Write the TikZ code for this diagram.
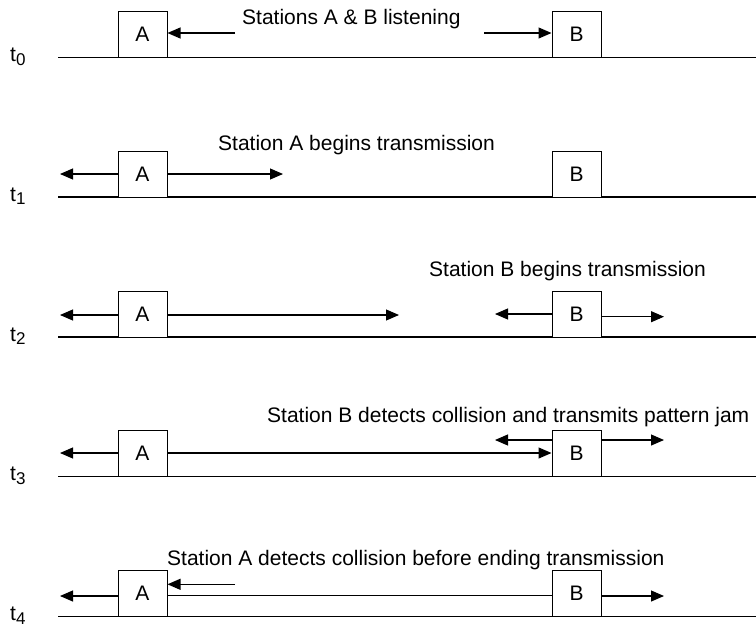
\documentclass[tikz,border=0pt]{standalone}
\usepackage{fontspec}
\setmainfont{Liberation Sans}
\usetikzlibrary{arrows.meta}
\tikzset{
  stbox/.style={draw, line width=1pt, minimum width=49pt, minimum height=46pt, inner sep=0pt, fill=white, font=\fontsize{21}{25}\selectfont},
  wire/.style={line width=1.2pt},
  sig/.style={line width=1.1pt, -{Triangle[length=13pt,width=11pt]}},
  plain/.style={line width=1.1pt},
  caption/.style={anchor=base west, inner sep=0pt, font=\fontsize{21}{25}\selectfont},
  tlab/.style={anchor=base west, inner sep=0pt, font=\fontsize{21}{24}\selectfont}
}
\newcommand{\tsub}[1]{t\raisebox{-3.5pt}{\fontsize{17}{17}\selectfont #1}}
\begin{document}
\begin{tikzpicture}[x=1pt,y=-1pt]
\useasboundingbox (0,0) rectangle (756,627);

% ---------- t0 ----------
\coordinate (L0s) at (58,57.5); \coordinate (L0e) at (756,57.5);
\draw[wire] (L0s) -- (L0e);
\node[stbox] (A0) at (142.5,34.5) {A};
\node[stbox] (B0) at (576.5,34.5) {B};
\node[tlab] (T0) at (10,61.5) {\tsub{0}};
\node[caption] (C0) at (242,24) {Stations A \& B listening};
\coordinate (a0) at (235,33); \coordinate (b0) at (484,33);
\draw[sig] (a0) -- (A0.east |- a0);
\draw[sig] (b0) -- (B0.west |- b0);

% ---------- t1 ----------
\coordinate (L1s) at (58,197); \coordinate (L1e) at (756,197);
\draw[wire] (L1s) -- (L1e);
\node[stbox] (A1) at (142.5,174) {A};
\node[stbox] (B1) at (576.5,174) {B};
\node[tlab] (T1) at (10,201) {\tsub{1}};
\node[caption] (C1) at (218,150.7) {Station A begins transmission};
\coordinate (a1l) at (60,174); \coordinate (a1r) at (283,174);
\draw[sig] (A1.west) -- (a1l);
\draw[sig] (A1.east) -- (a1r);

% ---------- t2 ----------
\coordinate (L2s) at (58,337); \coordinate (L2e) at (756,337);
\draw[wire] (L2s) -- (L2e);
\node[stbox] (A2) at (142.5,314.5) {A};
\node[stbox] (B2) at (576.5,314.5) {B};
\node[tlab] (T2) at (10,341) {\tsub{2}};
\node[caption] (C2) at (429,276.7) {Station B begins transmission};
\coordinate (a2l) at (60,315); \coordinate (a2r) at (399,315);
\coordinate (b2l) at (495,314); \coordinate (b2r) at (664,316.7);
\draw[sig] (A2.west |- a2l) -- (a2l);
\draw[sig] (A2.east |- a2r) -- (a2r);
\draw[sig] (B2.west |- b2l) -- (b2l);
\draw[sig] (B2.east |- b2r) -- (b2r);

% ---------- t3 ----------
\coordinate (L3s) at (58,476.7); \coordinate (L3e) at (756,476.7);
\draw[wire] (L3s) -- (L3e);
\node[stbox] (A3) at (142.5,453.7) {A};
\node[stbox] (B3) at (576.5,453.7) {B};
\node[tlab] (T3) at (10,480.7) {\tsub{3}};
\node[caption] (C3) at (267,422.7) {Station B detects collision and transmits pattern jam};
\coordinate (a3l) at (60,453); \coordinate (b3m) at (0,453);
\coordinate (b3l) at (495,440); \coordinate (b3r) at (664,440);
\draw[sig] (A3.west |- a3l) -- (a3l);
\draw[sig] (A3.east |- b3m) -- (B3.west |- b3m);
\draw[sig] (B3.west |- b3l) -- (b3l);
\draw[sig] (B3.east |- b3r) -- (b3r);

% ---------- t4 ----------
\coordinate (L4s) at (58,616.7); \coordinate (L4e) at (756,616.7);
\draw[wire] (L4s) -- (L4e);
\node[stbox] (A4) at (142.5,593.7) {A};
\node[stbox] (B4) at (576.5,593.7) {B};
\node[tlab] (T4) at (10,620.7) {\tsub{4}};
\node[caption] (C4) at (167,565) {Station A detects collision before ending transmission};
\coordinate (a4l) at (60,596); \coordinate (m4) at (0,595.3);
\coordinate (a4s) at (235,584.3); \coordinate (b4r) at (664,596);
\draw[sig] (A4.west |- a4l) -- (a4l);
\draw[plain] (A4.east |- m4) -- (B4.west |- m4);
\draw[sig] (a4s) -- (A4.east |- a4s);
\draw[sig] (B4.east |- b4r) -- (b4r);
\end{tikzpicture}
\end{document}
